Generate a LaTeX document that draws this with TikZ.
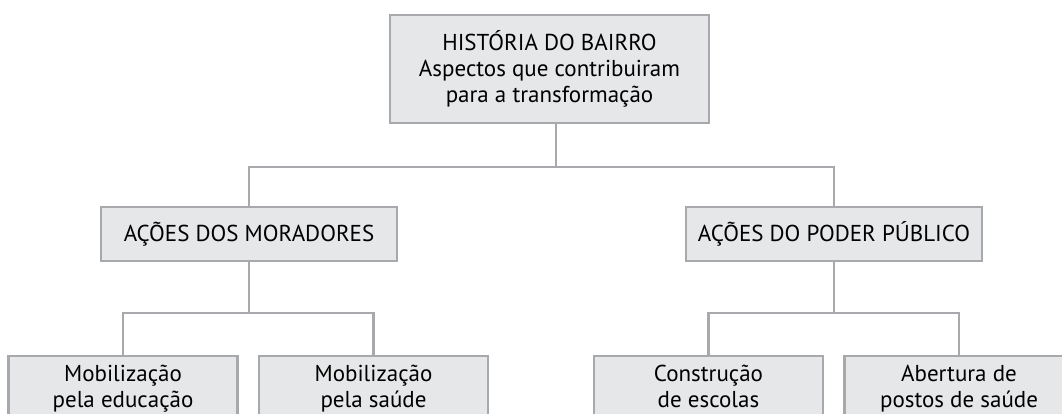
\documentclass[tikz,border=0pt]{standalone}
\usepackage{fontspec}
\setmainfont{PT Sans}
\usetikzlibrary{positioning,calc}
\definecolor{BoxFill}{RGB}{230,231,232}
\definecolor{LineGray}{RGB}{167,169,172}

\begin{document}
\begin{tikzpicture}[x=1pt,y=-1pt,
  blk/.style={draw=LineGray,fill=BoxFill,line width=2.8pt,inner sep=0pt,
              align=center,font=\fontsize{23}{26}\selectfont},
  topblk/.style={blk,minimum width=319pt,minimum height=108pt},
  midblk/.style={blk,minimum width=296pt,minimum height=54pt},
  leafblk/.style={blk,minimum width=229pt,minimum height=66pt},
  link/.style={LineGray,line width=2.8pt},
]
\path[use as bounding box,clip] (0,0) rectangle (1062,414);

\node[topblk] (hist) at (549.5,69) {HISTÓRIA DO BAIRRO\\Aspectos que contribuiram\\para a transformação};

\node[midblk] (mor) at (249,234) {AÇÕES DOS MORADORES};
\node[midblk] (pod) at (834,234) {AÇÕES DO PODER PÚBLICO};

\foreach \x/\name/\txt in {123/edu/{Mobilização\\pela educação}, 373.5/sau/{Mobilização\\pela saúde},
                           708.5/esc/{Construção\\de escolas}, 959/pos/{Abertura de\\postos de saúde}}
  \node[leafblk] (\name) at (\x,389) {\strut\txt\strut};

% buses
\coordinate (busTop) at (556,167);
\coordinate (busMor) at (249,313);
\coordinate (busPod) at (834,313);

\draw[link] (hist.south -| busTop) -- (busTop);
\draw[link] (mor.north) |- (busTop) -| (pod.north);
\draw[link] (mor.south) -- (busMor);
\draw[link] (edu.north) |- (busMor) -| (sau.north);
\draw[link] (pod.south) -- (busPod);
\draw[link] (esc.north) |- (busPod) -| (pos.north);
\end{tikzpicture}
\end{document}
